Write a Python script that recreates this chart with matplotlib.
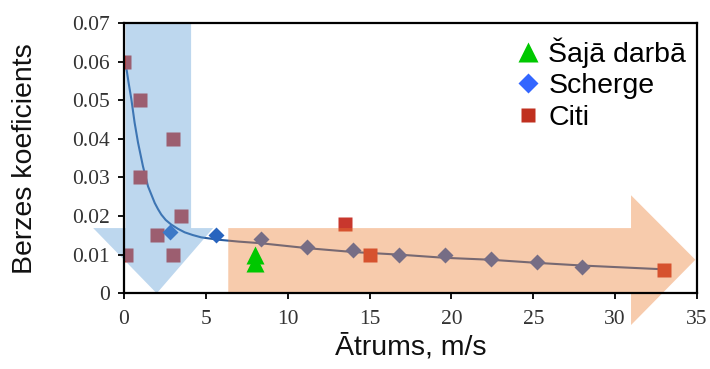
import matplotlib
matplotlib.use("Agg")
import matplotlib.pyplot as plt
from matplotlib.patches import Polygon
from matplotlib.lines import Line2D

# ---- data ----
citi_x = [0.0, 1.0, 1.0, 3.0, 3.5, 2.0, 3.0, 0.1, 13.5, 15.0, 33.0]
citi_y = [0.060, 0.050, 0.030, 0.040, 0.020, 0.015, 0.010, 0.010, 0.018, 0.010, 0.006]

scherge_x = [2.8, 5.6, 8.4, 11.2, 14.0, 16.8, 19.6, 22.4, 25.2, 28.0]
scherge_y = [0.016, 0.015, 0.014, 0.0121, 0.0111, 0.0100, 0.0100, 0.0089, 0.0080, 0.0069]

saja_x = [8.0, 8.0]
saja_y = [0.0100, 0.0079]

fit_x = [0.08, 0.28, 0.45, 0.65, 0.86, 1.16, 1.47, 1.88, 2.08, 2.28, 2.55, 2.89, 3.3,
         3.71, 4.2, 4.72, 5.74, 7.0, 8.3, 11.2, 14.0, 16.9, 19.6, 22.4, 25.2, 28.0, 33.1]
fit_y = [0.0602, 0.0546, 0.0503, 0.0442, 0.0390, 0.0329, 0.0277, 0.0234, 0.0218, 0.0204,
         0.0190, 0.0178, 0.0167, 0.0158, 0.0151, 0.0145, 0.0139, 0.0134, 0.0130, 0.0117,
         0.0107, 0.0100, 0.0092, 0.0087, 0.0079, 0.0072, 0.0062]

x_ticks = [0, 5, 10, 15, 20, 25, 30, 35]
y_ticks = [0, 0.01, 0.02, 0.03, 0.04, 0.05, 0.06, 0.07]
y_ticklabels = ["0", "0.01", "0.02", "0.03", "0.04", "0.05", "0.06", "0.07"]

legend_labels = ["Šajā darbā", "Scherge", "Citi"]
xlabel = "Ātrums, m/s"
ylabel = "Berzes koeficients"

# ---- decorative arrow shapes (data coordinates) ----
blue_arrow = [(0.1, 0.07), (4.1, 0.07), (4.1, 0.0169), (5.45, 0.0169), (2.0, 0.0),
              (-1.88, 0.0169), (0.1, 0.0169)]
orange_arrow = [(6.37, 0.0), (6.37, 0.0169), (30.97, 0.0169), (30.97, 0.0254),
                (34.9, 0.0087), (30.97, -0.0082), (30.97, 0.0)]

red = "#C8372D"
blue_pt = "#2864BE"
green = "#00C800"

fig = plt.figure(figsize=(7.1, 3.69), dpi=100)
ax = fig.add_axes([0.1746, 0.205, 0.9817 - 0.1746, 0.9377 - 0.205])

ax.plot(fit_x, fit_y, color="#2A5C9E", lw=1.5, zorder=2, solid_joinstyle="round")
ax.plot(citi_x, citi_y, ls="none", marker="s", ms=10.5, color=red, mec="none", zorder=2)
ax.plot(scherge_x, scherge_y, ls="none", marker="D", ms=8.5, color=blue_pt, mec="none", zorder=2)

ax.add_patch(Polygon(blue_arrow, closed=True, facecolor="#5B9BD5", alpha=0.4,
                     edgecolor="none", zorder=3, clip_on=False))
ax.add_patch(Polygon(orange_arrow, closed=True, facecolor="#ED7D31", alpha=0.4,
                     edgecolor="none", zorder=3, clip_on=False))

ax.plot(saja_x, saja_y, ls="none", marker="^", ms=13.5, color=green, mec="none", zorder=4)

ax.set_xlim(0, 35)
ax.set_ylim(0, 0.07)
ax.set_xticks(x_ticks)
ax.set_yticks(y_ticks)
ax.set_yticklabels(y_ticklabels)

for s in ax.spines.values():
    s.set_linewidth(1.6)
    s.set_zorder(6)
ax.xaxis.set_zorder(6)
ax.yaxis.set_zorder(6)
ax.tick_params(direction="out", length=4.2, width=1.3, labelsize=15.5,
               labelcolor="#333333")
ax.tick_params(axis="x", pad=8)
ax.tick_params(axis="y", pad=6)
for lab in ax.get_xticklabels() + ax.get_yticklabels():
    lab.set_family("Liberation Serif")

ax.set_xlabel(xlabel, fontsize=20.5, family="Liberation Sans", color="#111111")
ax.set_ylabel(ylabel, fontsize=20.5, family="Liberation Sans", color="#111111")
ax.xaxis.set_label_coords(0.5, -0.15)
ax.yaxis.set_label_coords(-0.15, 0.5)

handles = [
    Line2D([], [], ls="none", marker="^", ms=15, color=green, mec="none"),
    Line2D([], [], ls="none", marker="D", ms=10, color="#3366FF", mec="none"),
    Line2D([], [], ls="none", marker="s", ms=10, color="#C0301F", mec="none"),
]
leg = ax.legend(handles, legend_labels, loc="upper left",
                bbox_to_anchor=(517 / 710, 1 - 37 / 369), bbox_transform=fig.transFigure,
                frameon=False, borderpad=0, borderaxespad=0, handlelength=0.8,
                handletextpad=0.3, labelspacing=0.2,
                prop={"family": "Liberation Sans", "size": 20.5})
leg.set_zorder(7)

fig.savefig("out.png", dpi=100)
